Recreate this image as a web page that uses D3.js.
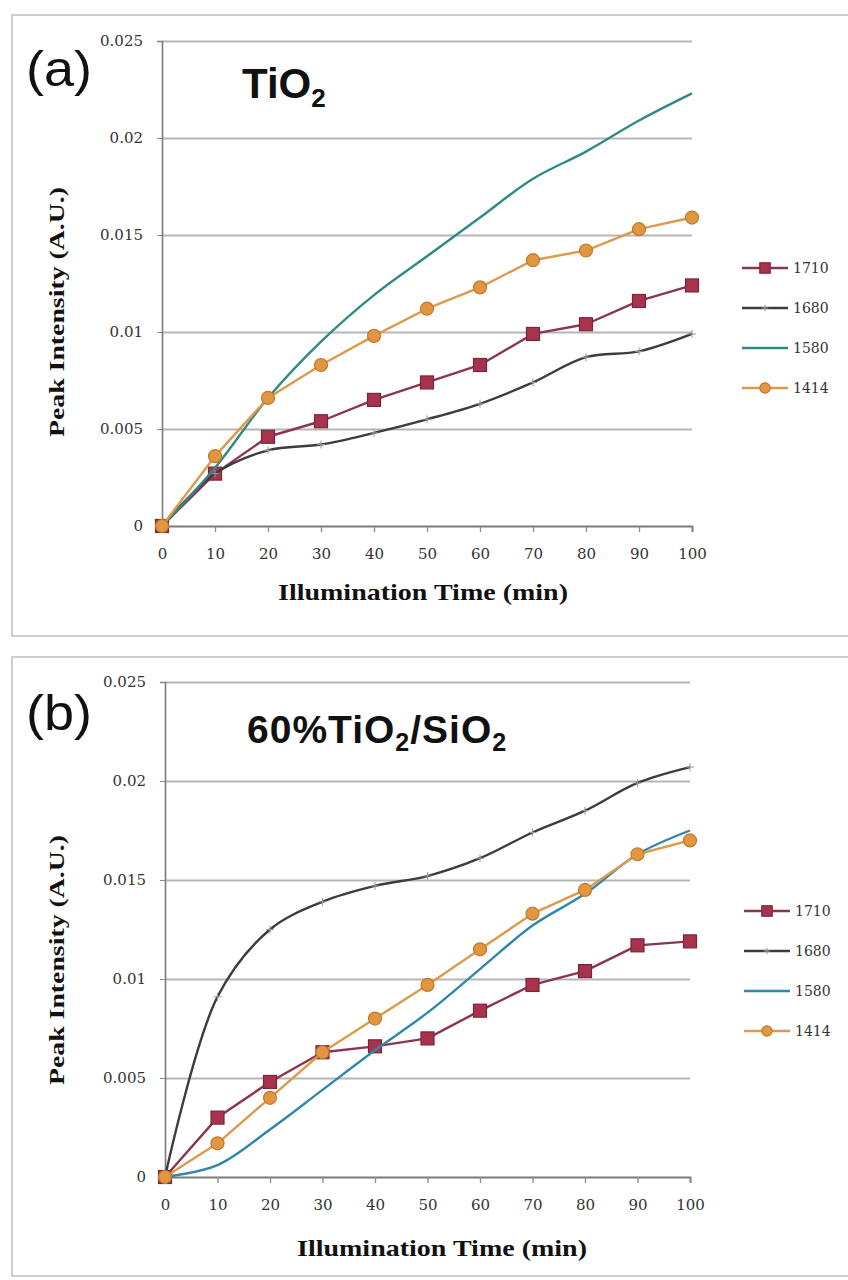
<!DOCTYPE html>
<html><head><meta charset="utf-8">
<script src="https://cdn.jsdelivr.net/npm/d3@7"></script>
<style>
html,body{margin:0;padding:0;background:#fff;}
svg{display:block;}
</style></head>
<body>
<svg id="chart" width="848" height="1280"></svg>
<script>
// ---- data ----
const xTicks = [0,10,20,30,40,50,60,70,80,90,100];
const yTicks = [0,0.005,0.01,0.015,0.02,0.025];
const yTickLabels = ["0","0.005","0.01","0.015","0.02","0.025"];
const seriesNames = ["1710","1680","1580","1414"];

const a1710 = [0,0.0027,0.0046,0.0054,0.0065,0.0074,0.0083,0.0099,0.0104,0.0116,0.0124];
const a1680 = [0,0.0027,0.0039,0.0042,0.0048,0.0055,0.0063,0.0074,0.0087,0.0090,0.0099];
const a1580 = [0,0.0030,0.0066,0.0095,0.0119,0.0139,0.0159,0.0179,0.0193,0.0209,0.0223];
const a1414 = [0,0.0036,0.0066,0.0083,0.0098,0.0112,0.0123,0.0137,0.0142,0.0153,0.0159];

const b1710 = [0,0.0030,0.0048,0.0063,0.0066,0.0070,0.0084,0.0097,0.0104,0.0117,0.0119];
const b1680 = [0,0.0091,0.0125,0.0139,0.0147,0.0152,0.0161,0.0174,0.0185,0.0199,0.0207];
const b1580 = [0,0.0006,0.0024,0.0044,0.0064,0.0083,0.0105,0.0127,0.0143,0.0163,0.0175];
const b1414 = [0,0.0017,0.0040,0.0063,0.0080,0.0097,0.0115,0.0133,0.0145,0.0163,0.0170];

const xTitle = "Illumination Time (min)";
const yTitle = "Peak Intensity (A.U.)";

// ---- styles ----
const styles = {
  "1710": {line:"#8c3550", fill:"#a8334f", stroke:"#7a2638", marker:"square", curve:d3.curveLinear},
  "1680": {line:"#3c3c3c", fill:"none", stroke:"#9a9a9a", marker:"plus", curve:d3.curveCatmullRom},
  "1580": {line:"#2f8a86", fill:"none", stroke:"#9fd0cc", marker:"none", curve:d3.curveCatmullRom},
  "1414": {line:"#dd9a4c", fill:"#e2963f", stroke:"#c07a30", marker:"circle", curve:d3.curveLinear}
};

const panels = [
  {frame:{x:12,y:15,w:850,h:621}, x0:162, x1:692, yB:526, yT:41,
   series:[a1710,a1680,a1580,a1414], c1580:"#2f8a86",
   tag:"(a)", tagX:26, tagY:86,
   legX:742, legY:268,
   xTitleX:423, xTitleY:600, yTitleX:64, yTitleY:312},
  {frame:{x:12,y:657,w:850,h:619}, x0:165, x1:690, yB:1177, yT:682,
   series:[b1710,b1680,b1580,b1414], c1580:"#2f88aa",
   tag:"(b)", tagX:26, tagY:730,
   legX:744, legY:911,
   xTitleX:442, xTitleY:1256, yTitleX:64, yTitleY:960}
];

const svg = d3.select("#chart");

panels.forEach((p, pi) => {
  const g = svg.append("g");
  g.append("rect").attr("x",p.frame.x).attr("y",p.frame.y)
    .attr("width",p.frame.w).attr("height",p.frame.h)
    .attr("fill","#fff").attr("stroke","#cfcfcf").attr("stroke-width",2);

  const x = d3.scaleLinear().domain([0,100]).range([p.x0,p.x1]);
  const y = d3.scaleLinear().domain([0,0.025]).range([p.yB,p.yT]);

  // gridlines
  const grid = g.append("g").attr("transform",`translate(${p.x0},0)`)
    .call(d3.axisLeft(y).tickValues(yTicks.slice(1)).tickSize(-(p.x1-p.x0)).tickFormat(""));
  grid.select(".domain").remove();
  grid.selectAll("line").attr("stroke","#b5b5b5").attr("stroke-width",2);

  // y axis
  const ya = g.append("g").attr("transform",`translate(${p.x0},0)`)
    .call(d3.axisLeft(y).tickValues(yTicks).tickSize(5).tickPadding(14)
      .tickFormat((d,i)=>yTickLabels[i]));
  ya.select(".domain").attr("stroke","#7a7a7a").attr("stroke-width",1.6);
  ya.selectAll("line").attr("stroke","#8a8a8a");
  ya.selectAll("text").attr("font-family","DejaVu Serif").attr("font-size",15).attr("fill","#333");

  // x axis
  const xa = g.append("g").attr("transform",`translate(0,${p.yB})`)
    .call(d3.axisBottom(x).tickValues(xTicks).tickSize(6).tickPadding(16));
  xa.select(".domain").attr("stroke","#7a7a7a").attr("stroke-width",2);
  xa.selectAll("line").attr("stroke","#8a8a8a").attr("stroke-width",1.3);
  xa.selectAll("text").attr("font-family","DejaVu Serif").attr("font-size",15).attr("fill","#333");

  // series lines
  seriesNames.forEach((name, si) => {
    const st = styles[name];
    const vals = p.series[si];
    const col = name==="1580" ? p.c1580 : st.line;
    const line = d3.line().x((d,i)=>x(xTicks[i])).y(d=>y(d)).curve(st.curve);
    g.append("path").datum(vals).attr("d",line)
      .attr("fill","none").attr("stroke",col).attr("stroke-width",2.4)
      .attr("stroke-linejoin","round");
    const mg = g.append("g");
    vals.forEach((v,i) => drawMarker(mg, st.marker, x(xTicks[i]), y(v), st, 1));
  });

  // legend
  seriesNames.forEach((name, si) => {
    const st = styles[name];
    const col = name==="1580" ? p.c1580 : st.line;
    const ly = p.legY + si*40;
    g.append("line").attr("x1",p.legX).attr("x2",p.legX+46).attr("y1",ly).attr("y2",ly)
      .attr("stroke",col).attr("stroke-width",2.4);
    drawMarker(g, st.marker, p.legX+23, ly, st, 0.8);
    g.append("text").attr("x",p.legX+51).attr("y",ly).attr("dy","0.36em")
      .attr("font-family","DejaVu Serif").attr("font-size",14).attr("fill","#333").text(name);
  });

  // panel tag
  g.append("text").attr("x",p.tagX).attr("y",p.tagY)
    .attr("font-family","Liberation Sans, Arial").attr("font-size",50).attr("fill","#111")
    .attr("textLength",66).attr("lengthAdjust","spacingAndGlyphs").text(p.tag);

  // material label
  const t = g.append("text").attr("font-family","Liberation Sans, Arial").attr("font-weight","bold")
    .attr("fill","#111");
  if (pi===0) {
    t.attr("x",242).attr("y",98).attr("font-size",42);
    t.append("tspan").text("TiO");
    t.append("tspan").attr("font-size",26).attr("dy",9).text("2");
  } else {
    t.attr("x",247).attr("y",743).attr("font-size",39).attr("letter-spacing",1);
    t.append("tspan").text("60%TiO");
    t.append("tspan").attr("font-size",25).attr("dy",8).text("2");
    t.append("tspan").attr("dy",-8).text("/SiO");
    t.append("tspan").attr("font-size",25).attr("dy",8).text("2");
  }

  // axis titles
  g.append("text").attr("x",p.xTitleX).attr("y",p.xTitleY).attr("text-anchor","middle")
    .attr("font-family","Liberation Serif, Times New Roman").attr("font-weight","bold")
    .attr("font-size",23).attr("fill","#111")
    .attr("textLength",290).attr("lengthAdjust","spacingAndGlyphs").text(xTitle);
  g.append("text").attr("transform",`translate(${p.yTitleX},${p.yTitleY}) rotate(-90)`)
    .attr("text-anchor","middle")
    .attr("font-family","Liberation Serif, Times New Roman").attr("font-weight","bold")
    .attr("font-size",21).attr("fill","#111")
    .attr("textLength",250).attr("lengthAdjust","spacingAndGlyphs").text(yTitle);
});

function drawMarker(g, type, cx, cy, st, s) {
  if (type==="square") {
    const w = 13*s;
    g.append("rect").attr("x",cx-w/2).attr("y",cy-w/2).attr("width",w).attr("height",w)
      .attr("fill",st.fill).attr("stroke",st.stroke).attr("stroke-width",1.2);
  } else if (type==="circle") {
    g.append("circle").attr("cx",cx).attr("cy",cy).attr("r",6.5*s)
      .attr("fill",st.fill).attr("stroke",st.stroke).attr("stroke-width",1.2);
  } else if (type==="plus") {
    const h = 4*s;
    g.append("path").attr("d",`M${cx-h},${cy}H${cx+h}M${cx},${cy-h}V${cy+h}`)
      .attr("stroke",st.stroke).attr("stroke-width",1).attr("fill","none");
  }
}
</script>
</body></html>
